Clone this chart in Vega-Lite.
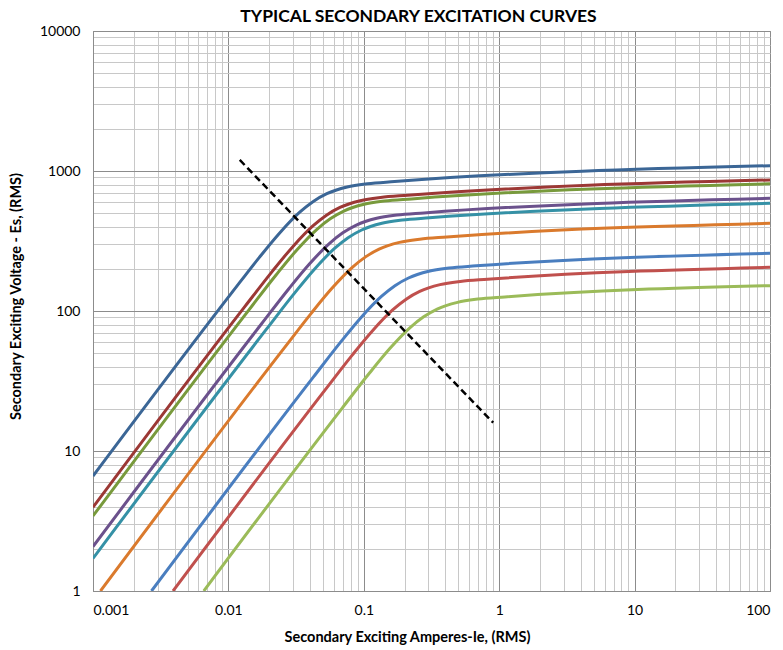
{
  "$schema": "https://vega.github.io/schema/vega-lite/v6.json",
  "width": 677,
  "height": 560,
  "autosize": {"type": "none"},
  "padding": {"left": 93, "top": 31, "right": 13, "bottom": 59},
  "background": "white",
  "title": {"text": "TYPICAL SECONDARY EXCITATION CURVES", "font": "Lato", "fontSize": 17.5, "fontWeight": "bold", "color": "#000000", "anchor": "middle", "dx": -13, "dy": 5, "offset": 4},
  "config": {
    "view": {"stroke": "#8c8c8c", "strokeWidth": 1},
    "axis": {"labelFont": "Lato", "titleFont": "Lato", "labelColor": "#000000", "titleColor": "#000000", "ticks": false, "domainColor": "#8c8c8c", "labelOverlap": false}
  },
  "datasets": {
    "curves": [
      {"s": "S1", "x": 0.001, "y": 6.62}, {"s": "S1", "x": 0.01064, "y": 135.7}, {"s": "S1", "x": 0.01687, "y": 240.6}, {"s": "S1", "x": 0.02383, "y": 359.7}, {"s": "S1", "x": 0.03365, "y": 507.8}, {"s": "S1", "x": 0.04236, "y": 606.1}, {"s": "S1", "x": 0.05333, "y": 688.2}, {"s": "S1", "x": 0.07533, "y": 769.1}, {"s": "S1", "x": 0.1064, "y": 811.5}, {"s": "S1", "x": 0.1687, "y": 840.6}, {"s": "S1", "x": 100, "y": 1091},
      {"s": "S2", "x": 0.001, "y": 3.963}, {"s": "S2", "x": 0.0133, "y": 108.3}, {"s": "S2", "x": 0.02109, "y": 191.9}, {"s": "S2", "x": 0.02979, "y": 287.0}, {"s": "S2", "x": 0.04207, "y": 405.2}, {"s": "S2", "x": 0.05297, "y": 483.7}, {"s": "S2", "x": 0.06668, "y": 549.1}, {"s": "S2", "x": 0.09419, "y": 613.7}, {"s": "S2", "x": 0.133, "y": 647.7}, {"s": "S2", "x": 0.2109, "y": 670.9}, {"s": "S2", "x": 100, "y": 863},
      {"s": "S3", "x": 0.001, "y": 3.436}, {"s": "S3", "x": 0.01419, "y": 102.0}, {"s": "S3", "x": 0.02249, "y": 180.8}, {"s": "S3", "x": 0.03177, "y": 270.4}, {"s": "S3", "x": 0.04487, "y": 381.7}, {"s": "S3", "x": 0.0565, "y": 455.6}, {"s": "S3", "x": 0.07113, "y": 517.2}, {"s": "S3", "x": 0.1005, "y": 578.1}, {"s": "S3", "x": 0.1419, "y": 609.9}, {"s": "S3", "x": 0.2249, "y": 631.9}, {"s": "S3", "x": 100, "y": 810.9},
      {"s": "S4", "x": 0.001, "y": 2.075}, {"s": "S4", "x": 0.01758, "y": 81.03}, {"s": "S4", "x": 0.02786, "y": 143.7}, {"s": "S4", "x": 0.03935, "y": 214.8}, {"s": "S4", "x": 0.05559, "y": 303.1}, {"s": "S4", "x": 0.06999, "y": 361.9}, {"s": "S4", "x": 0.0881, "y": 410.8}, {"s": "S4", "x": 0.1245, "y": 459.2}, {"s": "S4", "x": 0.1758, "y": 484.5}, {"s": "S4", "x": 0.2786, "y": 501.9}, {"s": "S4", "x": 100, "y": 638.3},
      {"s": "S5", "x": 0.001, "y": 1.71}, {"s": "S5", "x": 0.01923, "y": 74.76}, {"s": "S5", "x": 0.03047, "y": 132.5}, {"s": "S5", "x": 0.04305, "y": 198.1}, {"s": "S5", "x": 0.06081, "y": 279.7}, {"s": "S5", "x": 0.07655, "y": 333.8}, {"s": "S5", "x": 0.09639, "y": 379.0}, {"s": "S5", "x": 0.1361, "y": 423.6}, {"s": "S5", "x": 0.1923, "y": 447.0}, {"s": "S5", "x": 0.3047, "y": 463.0}, {"s": "S5", "x": 100, "y": 587.5},
      {"s": "S6", "x": 0.001135, "y": 1}, {"s": "S6", "x": 0.02588, "y": 54.54}, {"s": "S6", "x": 0.04102, "y": 96.65}, {"s": "S6", "x": 0.05794, "y": 144.5}, {"s": "S6", "x": 0.08184, "y": 204.0}, {"s": "S6", "x": 0.103, "y": 243.6}, {"s": "S6", "x": 0.1297, "y": 276.5}, {"s": "S6", "x": 0.1832, "y": 309.0}, {"s": "S6", "x": 0.2588, "y": 326.0}, {"s": "S6", "x": 0.4102, "y": 337.7}, {"s": "S6", "x": 100, "y": 422.7},
      {"s": "S7", "x": 0.002704, "y": 1}, {"s": "S7", "x": 0.04266, "y": 33.94}, {"s": "S7", "x": 0.06761, "y": 60.14}, {"s": "S7", "x": 0.0955, "y": 89.96}, {"s": "S7", "x": 0.1349, "y": 127.0}, {"s": "S7", "x": 0.1698, "y": 151.6}, {"s": "S7", "x": 0.2138, "y": 172.1}, {"s": "S7", "x": 0.302, "y": 192.3}, {"s": "S7", "x": 0.4266, "y": 202.9}, {"s": "S7", "x": 0.6761, "y": 210.2}, {"s": "S7", "x": 100, "y": 258.2},
      {"s": "S8", "x": 0.003899, "y": 1}, {"s": "S8", "x": 0.05164, "y": 27.21}, {"s": "S8", "x": 0.08184, "y": 48.22}, {"s": "S8", "x": 0.1156, "y": 72.11}, {"s": "S8", "x": 0.1633, "y": 101.8}, {"s": "S8", "x": 0.2056, "y": 121.5}, {"s": "S8", "x": 0.2588, "y": 137.9}, {"s": "S8", "x": 0.3656, "y": 154.2}, {"s": "S8", "x": 0.5164, "y": 162.7}, {"s": "S8", "x": 0.8184, "y": 168.5}, {"s": "S8", "x": 100, "y": 205.1},
      {"s": "S9", "x": 0.006577, "y": 1}, {"s": "S9", "x": 0.0695, "y": 20.35}, {"s": "S9", "x": 0.1102, "y": 36.07}, {"s": "S9", "x": 0.1556, "y": 53.95}, {"s": "S9", "x": 0.2198, "y": 76.15}, {"s": "S9", "x": 0.2767, "y": 90.91}, {"s": "S9", "x": 0.3483, "y": 103.2}, {"s": "S9", "x": 0.492, "y": 115.3}, {"s": "S9", "x": 0.695, "y": 121.7}, {"s": "S9", "x": 1.1015, "y": 126.1}, {"s": "S9", "x": 100, "y": 151.7}
    ],
    "knee": [
      {"x": 0.01213, "y": 1199},
      {"x": 0.903, "y": 15.92}
    ]
  },
  "layer": [
    {
      "data": {"name": "curves"},
      "mark": {"type": "line", "strokeWidth": 3, "interpolate": "monotone", "clip": true},
      "encoding": {
        "x": {
          "field": "x", "type": "quantitative",
          "scale": {"type": "log", "domain": [0.001, 100], "nice": false},
          "axis": {
            "title": "Secondary Exciting Amperes-Ie, (RMS)",
            "titleFontSize": 14.5, "titleFontWeight": "bold", "titleX": 314, "titleY": 39, "titleBaseline": "top",
            "labelFontSize": 14, "labelPadding": 12,
            "values": [0.001,0.002,0.003,0.004,0.005,0.006,0.007,0.008,0.009,0.01,0.02,0.03,0.04,0.05,0.06,0.07,0.08,0.09,0.1,0.2,0.3,0.4,0.5,0.6,0.7,0.8,0.9,1,2,3,4,5,6,7,8,9,10,20,30,40,50,60,70,80,90,100],
            "labelExpr": "abs(log(datum.value)/LN10 - round(log(datum.value)/LN10)) < 1e-6 ? format(datum.value, '~g') : ''",
            "gridColor": {"condition": {"test": "abs(log(datum.value)/LN10 - round(log(datum.value)/LN10)) < 1e-6", "value": "#8c8c8c"}, "value": "#c8c8c8"}
          }
        },
        "y": {
          "field": "y", "type": "quantitative",
          "scale": {"type": "log", "domain": [1, 10000], "nice": false},
          "axis": {
            "title": "Secondary Exciting Voltage - Es, (RMS)",
            "titleFontSize": 14.5, "titleFontWeight": "bold", "titleX": -70, "titleY": 265,
            "labelFontSize": 14, "labelPadding": 13,
            "values": [1,2,3,4,5,6,7,8,9,10,20,30,40,50,60,70,80,90,100,200,300,400,500,600,700,800,900,1000,2000,3000,4000,5000,6000,7000,8000,9000,10000],
            "labelExpr": "abs(log(datum.value)/LN10 - round(log(datum.value)/LN10)) < 1e-6 ? format(datum.value, '~g') : ''",
            "gridColor": {"condition": {"test": "abs(log(datum.value)/LN10 - round(log(datum.value)/LN10)) < 1e-6", "value": "#8c8c8c"}, "value": "#c8c8c8"}
          }
        },
        "color": {
          "field": "s", "type": "nominal", "legend": null,
          "scale": {"domain": ["S1","S2","S3","S4","S5","S6","S7","S8","S9"], "range": ["#3b6696","#9c3835","#789a3c","#6b518c","#3591a6","#da7a2d","#4a7ebf","#c0504d","#9bbb59"]}
        }
      }
    },
    {
      "data": {"name": "knee"},
      "mark": {"type": "line", "color": "#000000", "strokeWidth": 2.5, "strokeDash": [7, 4]},
      "encoding": {
        "x": {"field": "x", "type": "quantitative"},
        "y": {"field": "y", "type": "quantitative"}
      }
    }
  ]
}
